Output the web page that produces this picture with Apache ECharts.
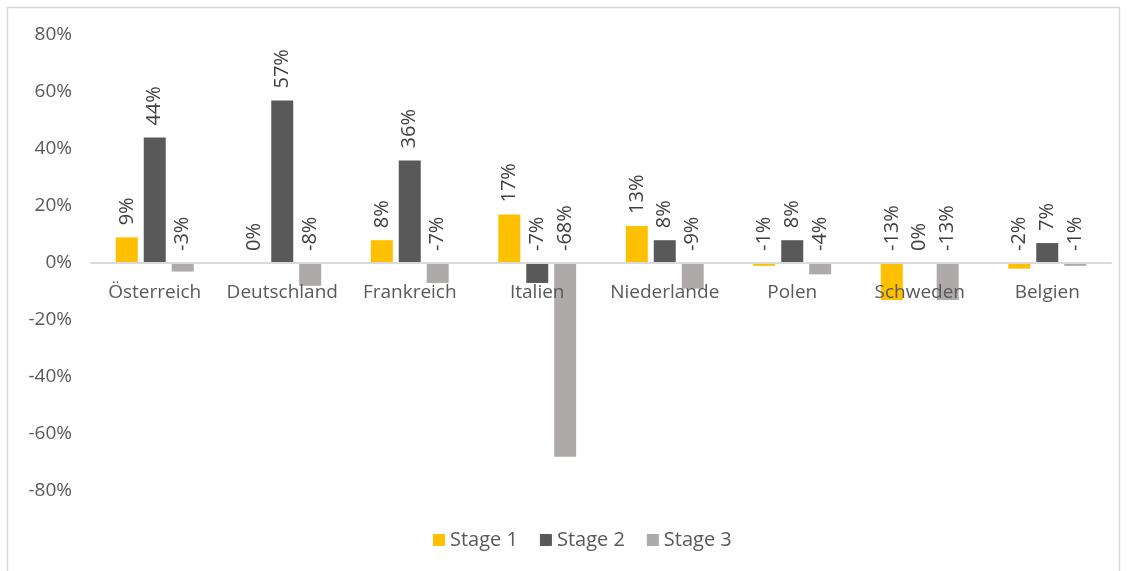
<!DOCTYPE html>
<html><head><meta charset="utf-8">
<script src="https://cdn.jsdelivr.net/npm/echarts@6/dist/echarts.min.js"></script>
<style>html,body{margin:0;padding:0;background:#fff}#c{width:1128px;height:571px}</style>
</head><body><div id="c"></div>
<script>
const categories = ["Österreich","Deutschland","Frankreich","Italien","Niederlande","Polen","Schweden","Belgien"];
const stage1 = [9, 0, 8, 17, 13, -1, -13, -2];
const stage2 = [44, 57, 36, -7, 8, 8, 0, 7];
const stage3 = [-3, -8, -7, -68, -9, -4, -13, -1];
const seriesNames = ["Stage 1","Stage 2","Stage 3"];
const colors = ["#FFC000","#595959","#AEAAAA"];
const FONT = "Open Sans";
const chart = echarts.init(document.getElementById('c'));
const mk = (name, data, color) => ({
  name, type:'bar', data, barWidth: 22, barGap: '27%',
  itemStyle:{color},
  label:{show:true, position:'top', rotate:90, align:'left', verticalAlign:'middle', distance:12,
    formatter: p => p.value + '%', color:'#404040', fontSize:20, fontFamily:FONT}
});
chart.setOption({
  animation:false,
  graphic:[{type:'rect', shape:{x:7.5,y:7.5,width:1112,height:570}, style:{fill:null, stroke:'#d9d9d9', lineWidth:1.5}, silent:true}],
  grid:{left:91, right:17, top:35, bottom:80},
  legend:{bottom:16, left:428, itemWidth:12, itemHeight:12, itemGap:22, icon:'rect',
    textStyle:{color:'#595959', fontSize:20, fontFamily:FONT}, data:seriesNames},
  xAxis:{type:'category', data:categories, axisTick:{show:false}, offset:-228, z:5,
    axisLine:{onZero:false, lineStyle:{color:'#d9d9d9', width:2}},
    axisLabel:{color:'#595959', fontSize:19, fontFamily:FONT, margin:20, interval:0}},
  yAxis:{type:'value', min:-80, max:80, interval:20, splitLine:{show:false},
    axisLine:{show:false}, axisTick:{show:false},
    axisLabel:{formatter:'{value}%', color:'#595959', fontSize:19, fontFamily:FONT, margin:19}},
  series:[mk(seriesNames[0],stage1,colors[0]), mk(seriesNames[1],stage2,colors[1]), mk(seriesNames[2],stage3,colors[2])]
});
</script></body></html>
